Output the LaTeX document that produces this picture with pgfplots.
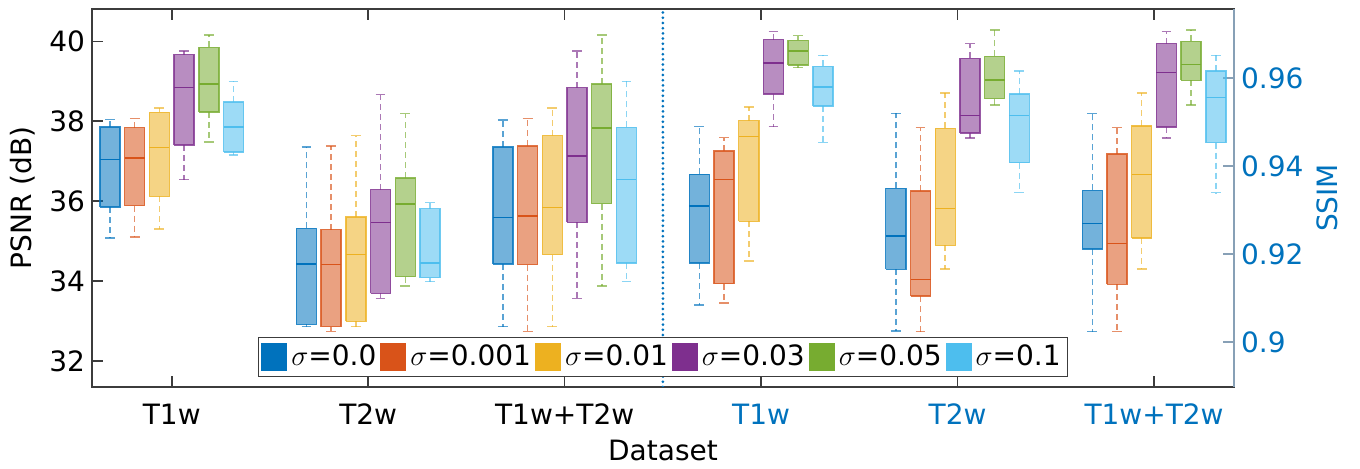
\documentclass[border=0pt]{standalone}
\usepackage{pgfplots}
\pgfplotsset{compat=1.18}
\usepackage{pgfplotstable}
\usepackage{fontspec}
\setmainfont{DejaVu Sans}

\definecolor{c0}{RGB}{0,114,189}
\definecolor{c1}{RGB}{217,83,25}
\definecolor{c2}{RGB}{237,177,32}
\definecolor{c3}{RGB}{126,47,142}
\definecolor{c4}{RGB}{119,172,48}
\definecolor{c5}{RGB}{77,190,238}
\definecolor{mblue}{RGB}{0,114,189}
\definecolor{axgray}{RGB}{60,60,60}
\definecolor{rgray}{RGB}{135,160,182}

% PSNR, T1w
\pgfplotstableread{
lw lq med uq uw
35.08 35.85 37.04 37.86 38.04
35.11 35.89 37.08 37.84 38.07
35.30 36.12 37.34 38.22 38.33
36.54 37.41 38.85 39.67 39.76
37.48 38.23 38.93 39.85 40.16
37.15 37.23 37.86 38.48 39.00
}\gA
% PSNR, T2w
\pgfplotstableread{
lw lq med uq uw
32.86 32.92 34.43 35.32 37.36
32.74 32.86 34.41 35.29 37.38
32.86 32.99 34.66 35.60 37.64
33.57 33.69 35.47 36.29 38.67
33.88 34.11 35.93 36.58 38.19
33.99 34.09 34.45 35.81 35.97
}\gB
% PSNR, T1w+T2w
\pgfplotstableread{
lw lq med uq uw
32.86 34.43 35.59 37.36 38.03
32.74 34.41 35.63 37.38 38.07
32.86 34.66 35.84 37.64 38.33
33.56 35.47 37.13 38.84 39.76
33.88 35.94 37.83 38.93 40.16
33.99 34.45 36.55 37.85 39.00
}\gC
% SSIM, T1w
\pgfplotstableread{
lw lq med uq uw
0.9085 0.9180 0.9310 0.9382 0.9490
0.9089 0.9133 0.9370 0.9435 0.9465
0.9185 0.9275 0.9468 0.9504 0.9535
0.9490 0.9564 0.9635 0.9688 0.9706
0.9624 0.9630 0.9662 0.9686 0.9697
0.9454 0.9537 0.9580 0.9627 0.9652
}\gD
% SSIM, T2w
\pgfplotstableread{
lw lq med uq uw
0.9026 0.9166 0.9242 0.9350 0.9520
0.9024 0.9105 0.9143 0.9344 0.9488
0.9167 0.9220 0.9304 0.9486 0.9567
0.9464 0.9476 0.9515 0.9645 0.9679
0.9539 0.9554 0.9596 0.9650 0.9710
0.9340 0.9408 0.9515 0.9564 0.9617
}\gE
% SSIM, T1w+T2w
\pgfplotstableread{
lw lq med uq uw
0.9024 0.9212 0.9270 0.9345 0.9520
0.9024 0.9132 0.9224 0.9428 0.9488
0.9167 0.9237 0.9382 0.9492 0.9567
0.9464 0.9489 0.9613 0.9679 0.9706
0.9539 0.9595 0.9631 0.9684 0.9710
0.9340 0.9454 0.9556 0.9617 0.9652
}\gF

\newcommand{\fs}{\fontsize{14pt}{16pt}\selectfont}

\pgfplotsset{
  common/.style={
    scale only axis, width=571pt, height=189pt,
    at={(0,0)}, anchor=south west,
    xmin=0.594, xmax=6.407,
    tick align=inside, major tick length=5.5pt,
    tick label style={font=\fs},
    /pgf/number format/assume math mode=true,
  },
}

% one group of six boxes: #1 table, #2 group centre, #3 extra options of the box
\newcommand{\boxgroup}[3]{%
  \pgfplotsinvokeforeach{0,...,5}{%
    \pgfplotstablegetelem{##1}{lw}\of#1\let\vlw\pgfplotsretval
    \pgfplotstablegetelem{##1}{lq}\of#1\let\vlq\pgfplotsretval
    \pgfplotstablegetelem{##1}{med}\of#1\let\vmed\pgfplotsretval
    \pgfplotstablegetelem{##1}{uq}\of#1\let\vuq\pgfplotsretval
    \pgfplotstablegetelem{##1}{uw}\of#1\let\vuw\pgfplotsretval
    \pgfmathsetmacro\xc{#2+(##1-2.5)*0.1258}%
    \pgfmathsetmacro\xa{\xc-0.051}%
    \pgfmathsetmacro\xb{\xc+0.051}%
    \pgfmathsetmacro\wa{\xc-0.025}%
    \pgfmathsetmacro\wb{\xc+0.025}%
    \edef\doplot{%
      \noexpand\addplot[c##1, draw opacity=0.65, line width=0.75pt, dash pattern=on 3pt off 2pt, forget plot] coordinates {(\xc,\vuq) (\xc,\vuw)};
      \noexpand\addplot[c##1, draw opacity=0.65, line width=0.75pt, dash pattern=on 3pt off 2pt, forget plot] coordinates {(\xc,\vlq) (\xc,\vlw)};
      \noexpand\addplot[c##1, draw opacity=0.65, line width=0.75pt, forget plot] coordinates {(\wa,\vuw) (\wb,\vuw)};
      \noexpand\addplot[c##1, draw opacity=0.65, line width=0.75pt, forget plot] coordinates {(\wa,\vlw) (\wb,\vlw)};
      \noexpand\addplot[draw=c##1, draw opacity=0.8, fill=c##1, fill opacity=0.55, line width=0.7pt, line join=miter, #3] coordinates {(\xa,\vlq) (\xb,\vlq) (\xb,\vuq) (\xa,\vuq) (\xa,\vlq)};
      \noexpand\addplot[c##1, line width=0.7pt, forget plot] coordinates {(\xa,\vmed) (\xb,\vmed)};
    }%
    \doplot
  }%
}

\begin{document}
\begin{tikzpicture}
\useasboundingbox (-46pt,-41pt) rectangle (634pt,193.5pt);
\begin{axis}[common,
  ymin=31.35, ymax=40.81,
  ytick={32,34,36,38,40}, ytick pos=left,
  xtick={1,2,3,4,5,6},
  xticklabels={T1w, T2w, T1w+T2w, \textcolor{mblue}{T1w}, \textcolor{mblue}{T2w}, \textcolor{mblue}{T1w+T2w}},
  every x tick label/.append style={anchor=center, yshift=-13.5pt},
  axis line style={draw=axgray, line width=0.8pt},
  tick style={draw=axgray, line width=0.8pt},
  ylabel={PSNR (dB)}, xlabel={Dataset},
  every axis y label/.style={at={(axis description cs:-0.0604,0.5)}, rotate=90, anchor=center, font=\fs},
  every axis x label/.style={at={(axis description cs:0.5,-0.1667)}, anchor=center, font=\fs},
]
\boxgroup{\gA}{1}{forget plot}
\boxgroup{\gB}{2}{forget plot}
\boxgroup{\gC}{3}{forget plot}
\addplot[mblue, line width=1.5pt, line cap=round, dash pattern=on 0pt off 2.6pt, forget plot] coordinates {(3.5,31.35) (3.5,40.81)};
\end{axis}
\begin{axis}[common,
  ymin=0.88984, ymax=0.97575,
  axis x line=none, axis y line*=right,
  tick align=inside,
  ytick={0.90,0.92,0.94,0.96},
  yticklabels={0.9,0.92,0.94,0.96},
  y axis line style={draw=rgray, line width=0.8pt},
  ytick style={draw=rgray, line width=0.8pt},
  yticklabel style={text=mblue},
  ylabel={SSIM},
  every axis y label/.style={at={(axis description cs:1.0814,0.5)}, rotate=90, anchor=center, text=mblue, font=\fs},
  legend columns=6,
  legend entries={$\sigma$=0.0, $\sigma$=0.001, $\sigma$=0.01, $\sigma$=0.03, $\sigma$=0.05, $\sigma$=0.1},
  legend image code/.code={\fill[#1, fill opacity=1, draw opacity=1, draw=none] (0pt,-7pt) rectangle (13pt,7pt);},
  legend style={at={(0.5,0.0265)}, anchor=south, font=\fs, draw=axgray, line width=0.6pt,
    inner xsep=1.5pt, inner ysep=2.75pt,
    nodes={inner xsep=2pt, inner ysep=1pt}, column sep=0pt},
]
\boxgroup{\gD}{4}{}
\boxgroup{\gE}{5}{forget plot}
\boxgroup{\gF}{6}{forget plot}
\end{axis}
\end{tikzpicture}
\end{document}
